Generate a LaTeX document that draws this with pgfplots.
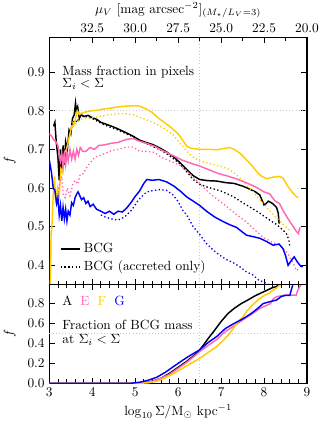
\documentclass[border=0pt]{standalone}
\usepackage{pgfplots}
\pgfplotsset{compat=1.18}
\definecolor{cE}{RGB}{255,105,180}
\definecolor{cF}{RGB}{255,205,0}
\definecolor{cG}{RGB}{0,0,255}

\pgfplotsset{
  panel/.style={
    width=193.3pt, scale only axis, xmin=3, xmax=9,
    tick align=inside,
    axis line style={line width=0.8pt},
    every tick/.style={black, line width=0.6pt},
    xtick={3,4,5,6,7,8,9}, minor x tick num=4,
    ylabel={$f$}, ylabel shift=2pt,
    yticklabel style={/pgf/number format/fixed, /pgf/number format/fixed zerofill, /pgf/number format/precision=1},
    extra x ticks={6.5}, extra x tick labels={},
    extra x tick style={grid=major, major tick length=0pt, major grid style={gray!45, dotted, line width=0.6pt}},
    extra y tick labels={},
    extra y tick style={grid=major, major tick length=0pt, major grid style={gray!45, dotted, line width=0.6pt}},
  },
  sol/.style={line width=1.1pt},
  dot/.style={line width=1.0pt, dash pattern=on 1pt off 1.8pt},
}

\begin{document}
\begin{tikzpicture}
\path[use as bounding box] (-37pt,-28.3pt) rectangle (210.5pt,287.5pt);

% lower panel: cumulative BCG mass fraction
\begin{axis}[panel, at={(0,0)}, anchor=south west, height=74pt,
  ymin=0, ymax=0.99, ytick={0,0.2,0.4,0.6,0.8},
  extra y ticks={0.5},
  xlabel={$\log_{10}\Sigma/\mathrm{M_\odot\ kpc^{-1}}$},
  xlabel style={yshift=1pt},
]
\addplot[sol, black] coordinates {
(3.0,0) (5.0,0) (5.2,0.005) (5.4,0.02) (5.6,0.05) (5.8,0.10) (6.0,0.16) (6.2,0.22)
(6.4,0.29) (6.5,0.333) (6.6,0.39) (6.7,0.45) (6.85,0.533) (7.0,0.62) (7.16,0.70)
(7.3,0.75) (7.47,0.80) (7.6,0.83) (7.78,0.875) (7.9,0.90) (8.0,0.92) (8.1,0.94)
(8.2,0.96) (8.29,0.97) (8.33,0.99)};
\addplot[sol, cE] coordinates {
(3.0,0) (5.0,0) (5.2,0.005) (5.4,0.02) (5.6,0.05) (5.8,0.09) (6.0,0.15) (6.2,0.21)
(6.4,0.28) (6.5,0.317) (6.7,0.38) (6.9,0.44) (7.1,0.52) (7.3,0.575) (7.5,0.635)
(7.7,0.69) (7.9,0.75) (8.05,0.78) (8.15,0.80) (8.22,0.85) (8.3,0.87) (8.5,0.885)
(8.75,0.885) (8.78,0.93) (8.82,0.96) (8.86,0.99)};
\addplot[sol, cF] coordinates {
(3.0,0) (5.1,0) (5.3,0.005) (5.5,0.02) (5.7,0.055) (5.9,0.10) (6.1,0.15) (6.3,0.20)
(6.5,0.25) (6.7,0.31) (6.9,0.37) (7.05,0.43) (7.2,0.50) (7.3,0.56) (7.43,0.635)
(7.5,0.66) (7.59,0.72) (7.74,0.79) (7.9,0.85) (8.0,0.88) (8.1,0.90) (8.2,0.93)
(8.3,0.96) (8.38,0.99)};
\addplot[sol, cG] coordinates {
(3.0,0) (4.9,0) (5.1,0.01) (5.3,0.03) (5.5,0.06) (5.7,0.11) (5.9,0.17) (6.1,0.23)
(6.3,0.285) (6.5,0.335) (6.7,0.41) (6.9,0.47) (7.1,0.55) (7.3,0.60) (7.5,0.645)
(7.7,0.70) (7.85,0.75) (7.98,0.80) (8.1,0.815) (8.29,0.835) (8.4,0.87) (8.5,0.883)
(8.6,0.883) (8.63,0.93) (8.67,0.99)};
\node[anchor=north west, inner sep=0pt] at (rel axis cs:0.05,0.885)
  {A\hspace{6pt}\textcolor{cE}{E}\hspace{6pt}\textcolor{cF}{F}\hspace{6pt}\textcolor{cG}{G}};
\node[anchor=north west, inner sep=0pt, align=left] at (rel axis cs:0.05,0.645)
  {Fraction of BCG mass\\[-1pt] at $\Sigma_i<\Sigma$};
\end{axis}

% upper panel: mass fraction in pixels
\begin{axis}[panel, at={(0,74pt)}, anchor=south west, height=185.5pt,
  ymin=0.35, ymax=0.99, ytick={0.4,0.5,0.6,0.7,0.8,0.9},
  xticklabels={}, xtick pos=bottom,
  extra y ticks={0.8},
  legend style={at={(rel axis cs:0.025,0.025)}, anchor=south west, draw=none, fill=none,
    row sep=0.5pt},
  legend cell align=left,
  legend image code/.code={\draw[#1] (0cm,0cm) -- (0.52cm,0cm);},
]
\addplot[sol, black] coordinates {
(3.10,0.76) (3.13,0.77) (3.16,0.72) (3.20,0.68) (3.23,0.62) (3.26,0.70) (3.29,0.64)
(3.32,0.71) (3.35,0.66) (3.38,0.72) (3.42,0.70) (3.46,0.75) (3.50,0.74) (3.54,0.78)
(3.58,0.79) (3.61,0.82) (3.63,0.80) (3.66,0.81) (3.70,0.78) (3.74,0.79) (3.80,0.785)
(3.90,0.788) (4.00,0.782) (4.10,0.778) (4.20,0.770) (4.30,0.766) (4.45,0.760)
(4.60,0.753) (4.75,0.745) (4.92,0.736) (5.10,0.724) (5.25,0.718) (5.42,0.712)
(5.60,0.702) (5.75,0.692) (5.90,0.680) (6.05,0.665) (6.20,0.648) (6.35,0.632)
(6.50,0.622) (6.70,0.619) (6.90,0.618) (7.10,0.614) (7.30,0.612) (7.50,0.605)
(7.65,0.598) (7.80,0.590) (7.90,0.582) (8.00,0.556) (8.05,0.560) (8.10,0.566)
(8.20,0.560) (8.29,0.550) (8.33,0.535) (8.35,0.508)};
\addlegendentry{BCG}
\addplot[dot, black] coordinates {
(3.55,0.77) (3.60,0.775) (3.65,0.770) (3.70,0.785) (3.75,0.788) (3.85,0.785)
(4.00,0.780) (4.20,0.768) (4.40,0.758) (4.60,0.750) (4.80,0.740) (5.00,0.730)
(5.20,0.718) (5.40,0.708) (5.60,0.698) (5.73,0.689) (5.90,0.675) (6.04,0.663)
(6.20,0.642) (6.35,0.622) (6.50,0.610) (6.66,0.603) (6.85,0.597) (7.00,0.592)
(7.28,0.578) (7.50,0.562) (7.67,0.551) (7.90,0.535) (8.13,0.517) (8.30,0.505)
(8.45,0.490) (8.52,0.482) (8.58,0.465) (8.60,0.447)};
\addlegendentry{BCG (accreted only)}
\addplot[sol, cF, forget plot] coordinates {
(3.02,0.30) (3.04,0.48) (3.06,0.50) (3.09,0.58) (3.12,0.63) (3.15,0.56) (3.19,0.60)
(3.23,0.58) (3.27,0.65) (3.31,0.64) (3.35,0.69) (3.40,0.70) (3.44,0.72) (3.48,0.74)
(3.52,0.76) (3.56,0.76) (3.60,0.775) (3.65,0.80) (3.70,0.79) (3.78,0.795) (3.90,0.798)
(4.00,0.800) (4.15,0.802) (4.30,0.805) (4.45,0.807) (4.60,0.810) (4.80,0.812)
(5.00,0.813) (5.10,0.812) (5.25,0.805) (5.40,0.795) (5.55,0.780) (5.70,0.768)
(5.85,0.755) (6.00,0.740) (6.10,0.725) (6.20,0.708) (6.30,0.703) (6.50,0.700)
(6.70,0.700) (6.90,0.699) (7.05,0.702) (7.20,0.705) (7.30,0.700) (7.44,0.690)
(7.60,0.672) (7.74,0.655) (7.85,0.640) (7.95,0.630) (8.06,0.624) (8.20,0.628)
(8.35,0.630) (8.44,0.626) (8.55,0.605) (8.65,0.590) (8.75,0.578) (8.80,0.575)};
\addplot[dot, cF, forget plot] coordinates {
(3.50,0.75) (3.55,0.77) (3.60,0.765) (3.70,0.775) (3.83,0.780) (4.00,0.782)
(4.20,0.786) (4.40,0.790) (4.60,0.792) (4.80,0.792) (4.95,0.790) (5.10,0.783)
(5.30,0.775) (5.50,0.765) (5.70,0.752) (5.88,0.738) (6.05,0.715) (6.20,0.695)
(6.35,0.680) (6.50,0.670) (6.70,0.664) (6.97,0.657) (7.15,0.650) (7.28,0.641)
(7.45,0.625) (7.60,0.606) (7.75,0.590) (7.90,0.570) (8.06,0.550) (8.25,0.527)
(8.44,0.506) (8.55,0.496) (8.60,0.490)};
\addplot[sol, cE, forget plot] coordinates {
(3.00,0.74) (3.05,0.735) (3.10,0.725) (3.15,0.72) (3.20,0.71) (3.23,0.69) (3.26,0.67)
(3.29,0.69) (3.32,0.655) (3.35,0.685) (3.38,0.66) (3.41,0.69) (3.44,0.67) (3.48,0.70)
(3.52,0.675) (3.56,0.695) (3.60,0.675) (3.64,0.70) (3.68,0.685) (3.72,0.705) (3.78,0.695)
(3.85,0.695) (3.95,0.705) (4.05,0.700) (4.15,0.710) (4.30,0.712) (4.45,0.716)
(4.60,0.718) (4.80,0.726) (4.95,0.728) (5.10,0.721) (5.25,0.716) (5.45,0.708)
(5.65,0.696) (5.88,0.684) (6.10,0.672) (6.30,0.664) (6.50,0.657) (6.70,0.648)
(6.95,0.637) (7.12,0.632) (7.35,0.624) (7.60,0.613) (7.80,0.603) (8.00,0.590)
(8.13,0.585) (8.25,0.567) (8.36,0.560) (8.45,0.540) (8.55,0.522) (8.65,0.505)
(8.75,0.488) (8.80,0.482) (8.82,0.492) (8.84,0.498)};
\addplot[dot, cE, forget plot] coordinates {
(3.17,0.56) (3.22,0.60) (3.26,0.62) (3.29,0.63) (3.33,0.58) (3.37,0.575) (3.42,0.60)
(3.48,0.58) (3.55,0.61) (3.60,0.62) (3.66,0.61) (3.72,0.635) (3.79,0.637) (3.85,0.65)
(3.95,0.665) (4.06,0.680) (4.18,0.684) (4.30,0.690) (4.45,0.697) (4.60,0.700)
(4.80,0.706) (4.95,0.706) (5.10,0.695) (5.25,0.695) (5.45,0.692) (5.60,0.680)
(5.80,0.670) (6.04,0.659) (6.20,0.645) (6.35,0.628) (6.50,0.612) (6.66,0.594)
(6.80,0.580) (6.97,0.566) (7.15,0.550) (7.35,0.532) (7.59,0.512) (7.80,0.490)
(7.97,0.473) (8.15,0.462) (8.36,0.452) (8.50,0.438) (8.60,0.422) (8.70,0.400)
(8.75,0.387) (8.80,0.390)};
\addplot[sol, cG, forget plot] coordinates {
(3.00,0.672) (3.05,0.640) (3.09,0.600) (3.13,0.594) (3.17,0.560) (3.20,0.575)
(3.23,0.530) (3.26,0.555) (3.29,0.515) (3.32,0.550) (3.35,0.520) (3.38,0.545)
(3.41,0.515) (3.44,0.540) (3.48,0.530) (3.52,0.562) (3.56,0.555) (3.60,0.575)
(3.64,0.585) (3.67,0.590) (3.71,0.580) (3.75,0.570) (3.80,0.575) (3.85,0.560)
(3.90,0.566) (3.95,0.552) (4.02,0.558) (4.10,0.545) (4.20,0.540) (4.30,0.534)
(4.40,0.540) (4.50,0.532) (4.60,0.540) (4.70,0.538) (4.80,0.548) (4.90,0.562)
(4.99,0.577) (5.10,0.592) (5.20,0.612) (5.27,0.622) (5.40,0.620) (5.55,0.622)
(5.73,0.616) (5.90,0.605) (6.05,0.592) (6.20,0.577) (6.35,0.566) (6.50,0.555)
(6.66,0.540) (6.85,0.525) (7.05,0.513) (7.20,0.505) (7.36,0.498) (7.45,0.490)
(7.59,0.478) (7.75,0.474) (7.90,0.470) (8.05,0.462) (8.21,0.452) (8.35,0.455)
(8.44,0.443) (8.50,0.425) (8.56,0.400) (8.62,0.410) (8.70,0.422) (8.78,0.408)
(8.85,0.398) (8.90,0.396)};
\addplot[dot, cG, forget plot] coordinates {
(4.20,0.530) (4.30,0.525) (4.45,0.520) (4.60,0.517) (4.75,0.525) (4.92,0.543)
(5.05,0.565) (5.15,0.578) (5.27,0.590) (5.40,0.593) (5.57,0.596) (5.73,0.594)
(5.88,0.582) (6.00,0.565) (6.11,0.542) (6.20,0.530) (6.35,0.500) (6.50,0.480)
(6.66,0.456) (6.81,0.440) (6.97,0.426) (7.12,0.415) (7.28,0.407) (7.45,0.395)
(7.59,0.383) (7.74,0.375) (7.87,0.362) (8.00,0.356) (8.20,0.345)};
\node[anchor=north west, inner sep=0pt, align=left] at (rel axis cs:0.05,0.885)
  {Mass fraction in pixels\\[-3pt] $\Sigma_i<\Sigma$};
\end{axis}

% surface brightness scale along the top
\begin{axis}[at={(0,74pt)}, anchor=south west, width=193.3pt, height=185.5pt, scale only axis,
  xmin=3, xmax=9, ymin=0, ymax=1,
  hide y axis, xtick pos=upper, xticklabel pos=upper, tick align=inside,
  axis line style={line width=0.8pt},
  every tick/.style={black, line width=0.6pt},
  xtick={4,5,6,7,8,9},
  xticklabels={32.5,30.0,27.5,25.0,22.5,20.0},
  minor xtick={3.5,4.5,5.5,6.5,7.5,8.5},
  xlabel={$\mu_V$ [mag arcsec$^{-2}$]$_{(M_\star/L_V=3)}$},
  xlabel style={at={(rel axis cs:0.5,1)}, anchor=center, yshift=20.5pt},
]
\end{axis}
\end{tikzpicture}
\end{document}
